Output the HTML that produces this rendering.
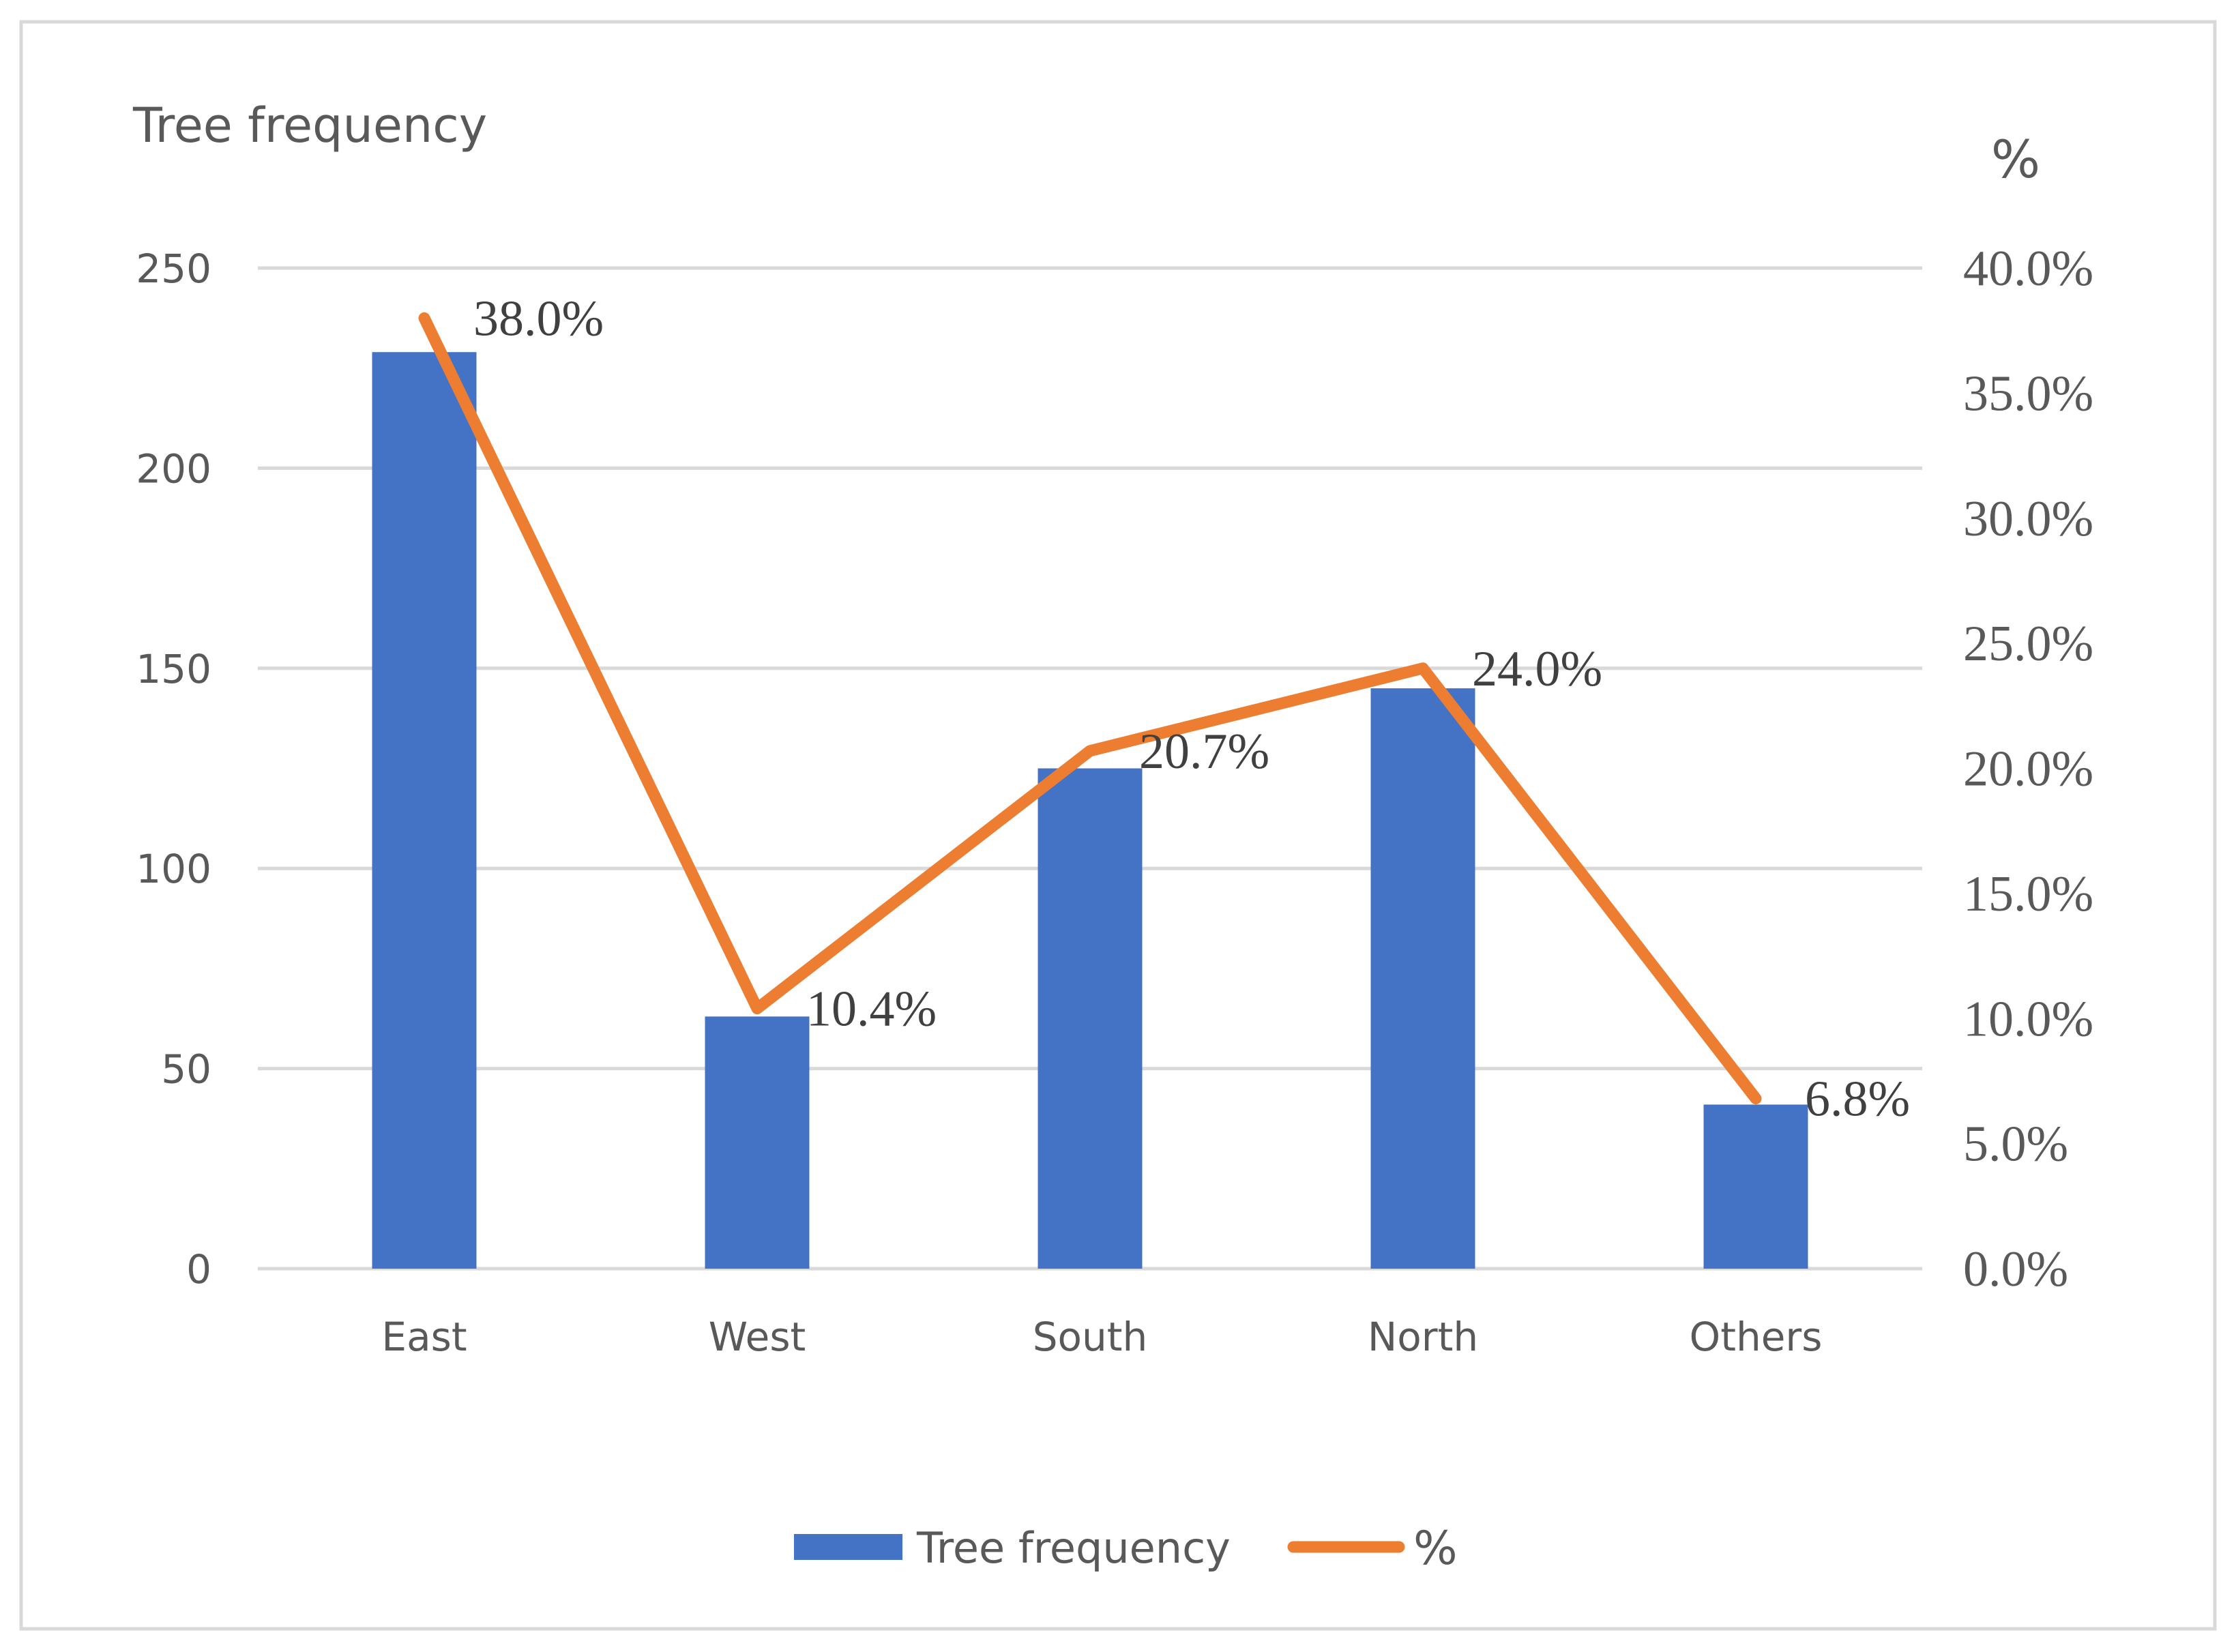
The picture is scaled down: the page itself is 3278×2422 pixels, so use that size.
<!DOCTYPE html>
<html><head><meta charset="utf-8"><style>
body{margin:0;background:#fff}
svg{display:block}
.tk{font-family:"DejaVu Sans","Liberation Sans",sans-serif;fill:#595959;font-size:58px}
.pl{font-family:"Liberation Serif",serif;fill:#595959;font-size:74px}
.dl{font-family:"Liberation Serif",serif;fill:#404040;font-size:74px}
</style></head><body>
<svg id="c" width="3278" height="2422" viewBox="0 0 3278 2422" xmlns="http://www.w3.org/2000/svg">
<rect x="31" y="32" width="3216" height="2356" fill="#fff" stroke="#d9d9d9" stroke-width="5"/>
<text class="tk" x="195" y="208" style="font-size:70px">Tree frequency</text>
<text class="tk" x="2955" y="260" text-anchor="middle" style="font-size:76px">%</text>
<g id="grid"></g><g id="bars"></g><g id="line"></g><g id="labels"></g>
<g>
<rect x="1164" y="2249" width="159" height="38" fill="#4472c4"/>
<text class="tk" x="1344" y="2291" style="font-size:62px">Tree frequency</text>
<line x1="1896" y1="2268" x2="2051" y2="2268" stroke="#ed7d31" stroke-width="17" stroke-linecap="round"/>
<text class="tk" x="2072" y="2293" style="font-size:68px">%</text>
</g>
</svg>
<script>
const categories=["East","West","South","North","Others"];
const freq=[229,63,125,145,41];
const pct=[38.0,10.4,20.7,24.0,6.8];
const leftTicks=[0,50,100,150,200,250];
const rightTicks=[0,5,10,15,20,25,30,35,40];
const NS="http://www.w3.org/2000/svg";
const X0=378,X1=2818,Y0=1860,Y1=393,step=(X1-X0)/categories.length,BW=153;
const xc=i=>X0+step*(i+0.5);
const yL=v=>Y0-(v/250)*(Y0-Y1);
const yR=v=>Y0-(v/40)*(Y0-Y1);
function mk(tag,attrs,parent,txt){const e=document.createElementNS(NS,tag);for(const k in attrs)e.setAttribute(k,attrs[k]);if(txt!==undefined)e.textContent=txt;document.getElementById(parent).appendChild(e);return e;}
leftTicks.forEach(v=>{
 const l=mk('line',{x1:X0,x2:X1,y1:yL(v),y2:yL(v),stroke:'#d9d9d9','stroke-width':5},'grid');
 
 
 const t=mk('text',{class:'tk',x:310,y:yL(v)+21,'text-anchor':'end'},'grid',String(v));
 
 
});
rightTicks.forEach(v=>{
 const t=mk('text',{class:'pl',x:2878,y:yR(v)+25},'grid',v.toFixed(1)+'%');
 
 
});
categories.forEach((c,i)=>{
 const r=mk('rect',{x:xc(i)-BW/2,y:yL(freq[i]),width:BW,height:Y0-yL(freq[i]),fill:'#4472c4'},'bars');
 
 
 const t=mk('text',{class:'tk',x:xc(i),y:1980,'text-anchor':'middle'},'labels',c);
 
 
});
const pts=pct.map((v,i)=>xc(i)+','+yR(v)).join(' ');
const pl=mk('polyline',{points:pts,fill:'none',stroke:'#ed7d31','stroke-width':17,'stroke-linecap':'round','stroke-linejoin':'round'},'line');


pct.forEach((v,i)=>{
 const t=mk('text',{class:'dl',x:xc(i)+72,y:yR(v)+25},'labels',v.toFixed(1)+'%');
 
 
});
</script>
</body></html>
